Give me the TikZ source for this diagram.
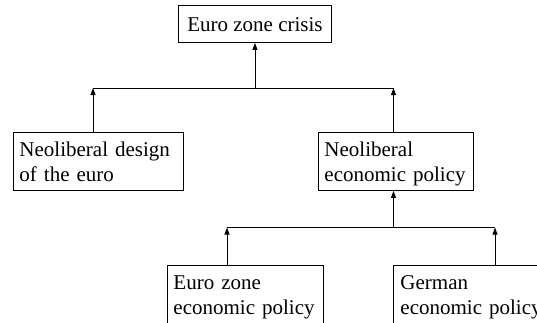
\documentclass[tikz,border=0pt]{standalone}
\usepackage{fontspec}
\setmainfont{Liberation Serif}
\usetikzlibrary{arrows.meta}
\newcommand\boxstrut{\rule[-5pt]{0pt}{25pt}}
\begin{document}
\begin{tikzpicture}[x=1pt,y=-1pt,line width=0.9pt,
  box/.style={draw, rectangle, anchor=north west, align=left,
    inner xsep=6pt, inner ysep=0pt, minimum height=58pt,
    font=\fontsize{21}{25}\selectfont},
  arr/.style={-{Triangle[length=7pt,width=5pt]}}]
\useasboundingbox (0,0) rectangle (537,322);
\clip (0,0) rectangle (537,322);
% boxes
\node[box, minimum height=37pt, minimum width=153pt, inner xsep=8pt] (crisis) at (178,5) {\boxstrut Euro zone crisis};
\node[box, text width=158pt] (design) at (13,132) {\boxstrut Neoliberal design\\\boxstrut of the euro};
\node[box, text width=143pt] (policy) at (318,132) {\boxstrut Neoliberal\\\boxstrut economic policy};
\node[box, text width=144pt] (ezp) at (167,265) {\boxstrut Euro zone\\\boxstrut economic policy};
\node[box, text width=144pt, inner xsep=7pt] (gep) at (393,265) {\boxstrut German\\\boxstrut economic policy};
% upper junction
\coordinate (b1l) at (93,88);
\coordinate (b1r) at (393.5,88);
\draw (b1l) -- (b1r);
\draw[arr] (crisis.south |- b1l) -- (crisis.south);
\draw[arr] (b1l |- design.north) -- (b1l);
\draw[arr] (b1r |- policy.north) -- (b1r);
% lower junction
\coordinate (b2l) at (227,227.5);
\coordinate (b2r) at (495,227.5);
\draw (b2l) -- (b2r);
\draw[arr] (b1r |- b2l) -- (b1r |- policy.south);
\draw[arr] (b2l |- ezp.north) -- (b2l);
\draw[arr] (b2r |- gep.north) -- (b2r);
\end{tikzpicture}
\end{document}
